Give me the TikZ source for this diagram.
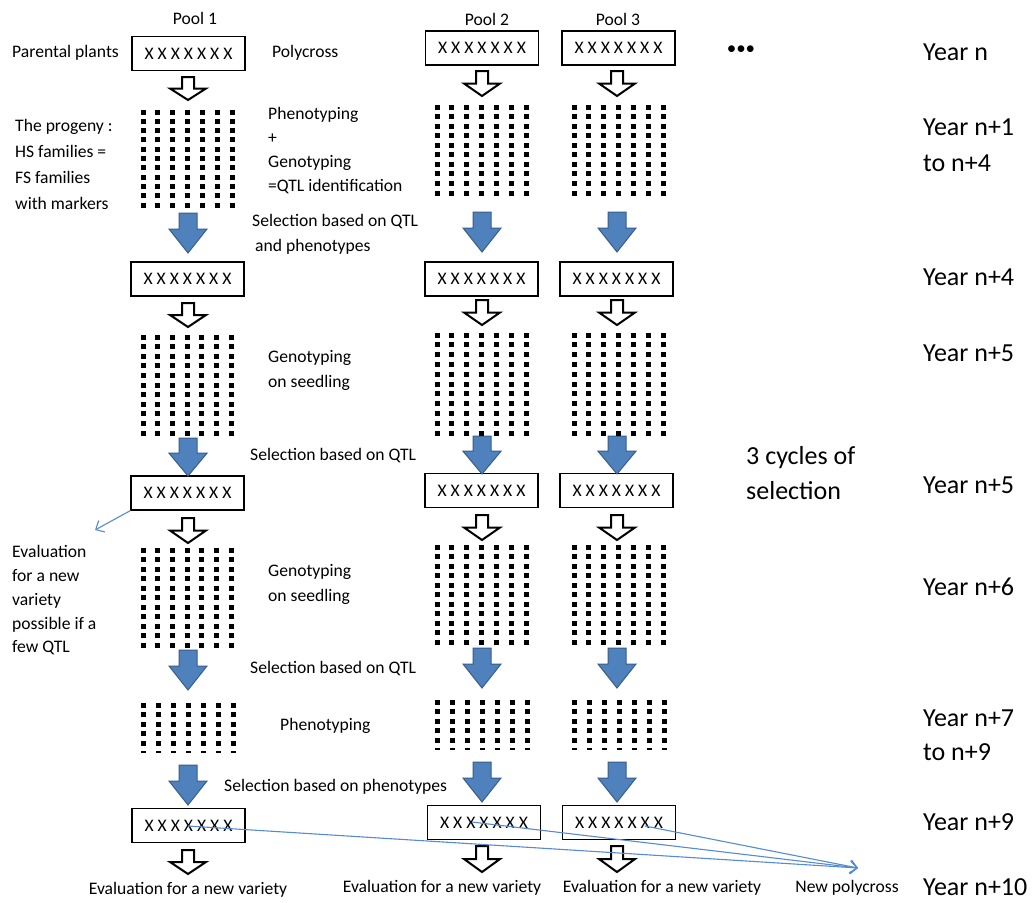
\documentclass[tikz,border=0pt]{standalone}
\usepackage{fontspec}
\setmainfont{Carlito}
\usetikzlibrary{arrows.meta}
\definecolor{bluefill}{RGB}{79,129,189}
\definecolor{blueedge}{RGB}{56,93,138}
\definecolor{linkblue}{RGB}{86,140,205}
\tikzset{
  t1/.style={inner sep=0, font=\fontsize{17.6}{24}\selectfont, text height=12.5pt, text depth=3.5pt},
  tm/.style={inner sep=0, align=left, anchor=west},
  yr/.style={inner sep=0, anchor=west, align=left},
  xbox/.style={draw, line width=1.1pt, minimum width=113pt, minimum height=34pt, inner sep=0, font=\fontsize{17.6}{20}\selectfont},
  blk/.style={fill=bluefill, draw=blueedge, line width=1pt, line join=miter},
  opn/.style={fill=white, draw=black, line width=2pt, line join=miter},
  link/.style={draw=linkblue, line width=1.1pt, -{Straight Barb[length=7pt,width=13pt]}}
}
\newcommand\bluearr[3]{% x, ytop, ytip
  \draw[blk] (#1-9,#2) -- (#1+9,#2) -- (#1+9,{#2+0.4*(#3-#2)}) -- (#1+19,{#2+0.4*(#3-#2)}) -- (#1,#3)
    -- (#1-19,{#2+0.4*(#3-#2)}) -- (#1-9,{#2+0.4*(#3-#2)}) -- cycle;}
\newcommand\openarr[3]{% x, ytop, ytip
  \draw[opn] (#1-6,#2) -- (#1+6,#2) -- (#1+6,{#2+0.5*(#3-#2)}) -- (#1+18,{#2+0.5*(#3-#2)}) -- (#1,#3)
    -- (#1-18,{#2+0.5*(#3-#2)}) -- (#1-6,{#2+0.5*(#3-#2)}) -- cycle;}
\newcommand\dotgrid[5]{% x0 y0 x1 y1 intervals
  \foreach \c in {0,...,6}{\foreach \r in {0,...,#5}{%
    \fill ({#1+\c*(#3-#1)/6-2.5},{#2+\r*(#4-#2)/#5-2.5}) rectangle ++(5,5);}}}
\newcommand\dashrow[3]{% x0 x1 y
  \foreach \c in {0,...,6}{\fill ({#1+\c*(#2-#1)/6-2.5},{#3-0.8}) rectangle ++(5,1.6);}}
\begin{document}
\begin{tikzpicture}[x=1pt,y=-1pt]
\useasboundingbox[fill=white] (0,0) rectangle (1033,902);

% pool labels
\node[t1] (p1) at (195,20) {Pool 1};
\node[t1] (p2) at (487,21) {Pool 2};
\node[t1] (p3) at (618,21) {Pool 3};

% boxes
\node[xbox] (b11) at (188.5,53.5) {X X X X X X X};
\node[xbox] (b12) at (482,48) {X X X X X X X};
\node[xbox] (b13) at (618.5,48) {X X X X X X X};
\node[xbox] (b21) at (187.5,279) {X X X X X X X};
\node[xbox] (b22) at (481.5,279) {X X X X X X X};
\node[xbox] (b23) at (616.5,279) {X X X X X X X};
\node[xbox] (b31) at (187.5,493) {X X X X X X X};
\node[xbox] (b32) at (481.5,490.5) {X X X X X X X};
\node[xbox] (b33) at (616.5,490.5) {X X X X X X X};
\node[xbox] (b41) at (188.5,825.5) {X X X X X X X};
\node[xbox] (b42) at (484,822.5) {X X X X X X X};
\node[xbox] (b43) at (619,822.5) {X X X X X X X};

% open arrows
\openarr{188}{77}{100}
\openarr{482}{71}{96}
\openarr{617}{71}{96}
\openarr{188}{303}{327}
\openarr{482}{300}{325}
\openarr{617}{300}{325}
\openarr{188}{518}{543}
\openarr{482}{515}{540}
\openarr{617}{515}{540}
\openarr{188}{850}{874}
\openarr{482}{846}{872}
\openarr{617}{846}{872}

% blue arrows
\bluearr{188}{213}{253}
\bluearr{482}{212}{252}
\bluearr{617}{212}{252}
\bluearr{188}{438}{476}
\bluearr{482}{436}{474}
\bluearr{617}{436}{474}
\bluearr{188}{650}{690}
\bluearr{482}{648}{688}
\bluearr{617}{648}{688}
\bluearr{188}{765}{805}
\bluearr{482}{762}{802}
\bluearr{617}{762}{802}

% dot grids
\dotgrid{143}{112}{232}{205}{10}
\dotgrid{437}{107}{526}{193}{9}
\dotgrid{574}{107}{663}{193}{9}
\dotgrid{143}{337}{231}{433}{10}
\dotgrid{437}{335}{526}{433}{10}
\dotgrid{574}{335}{663}{433}{10}
\dotgrid{143}{550}{231}{645}{10}
\dotgrid{437}{547}{526}{642}{10}
\dotgrid{574}{547}{663}{642}{10}
\dotgrid{143}{705}{233}{743}{4}
\dashrow{143}{233}{752}
\dotgrid{437}{702}{527}{740}{4}
\dashrow{437}{527}{749}
\dotgrid{574}{702}{664}{740}{4}
\dashrow{574}{664}{749}

% texts
\node[t1, anchor=west] (parental) at (12,53) {Parental plants};
\node[t1, anchor=west] (polycross) at (272,53) {Polycross};
\node[tm, font=\fontsize{17.6}{26}\selectfont] (progeny) at (15,164) {The progeny :\\HS families =\\FS families\\with markers};
\node[tm, font=\fontsize{17.6}{24}\selectfont] (phgeno) at (268,151) {Phenotyping\\+\\Genotyping\\=QTL identification};
\node[tm, font=\fontsize{17.6}{25}\selectfont] (sel1) at (252,234.5) {Selection based on QTL\\\hspace*{3pt}and phenotypes};
\node[tm, font=\fontsize{17.6}{25}\selectfont] (geno1) at (268,370.5) {Genotyping\\on seedling};
\node[t1, anchor=west] (sel2) at (250,456) {Selection based on QTL};
\node[tm, font=\fontsize{17.6}{25}\selectfont] (geno2) at (268,584.5) {Genotyping\\on seedling};
\node[t1, anchor=west] (sel3) at (250,669) {Selection based on QTL};
\node[t1, anchor=west] (pheno2) at (280,726) {Phenotyping};
\node[t1, anchor=west] (sel4) at (224,787) {Selection based on phenotypes};
\node[tm, font=\fontsize{17.6}{23.75}\selectfont] (evalleft) at (12,600.5) {Evaluation\\for a new\\variety\\possible if a\\few QTL};
\node[t1] (ev1) at (188,890) {Evaluation for a new variety};
\node[t1] (ev2) at (442,888) {Evaluation for a new variety};
\node[t1] (ev3) at (662,888) {Evaluation for a new variety};
\node[t1] (newpoly) at (847,888) {New polycross};
\node[inner sep=0, font=\fontsize{19}{20}\selectfont] (dots) at (741,50) {•••};

% year labels
\node[yr, font=\fontsize{26}{36}\selectfont] (y0) at (923,52) {Year n};
\node[yr, font=\fontsize{26}{36}\selectfont] (y1) at (923,145) {Year n+1\\to n+4};
\node[yr, font=\fontsize{26}{36}\selectfont] (y4) at (923,277) {Year n+4};
\node[yr, font=\fontsize{26}{36}\selectfont] (y5a) at (923,353) {Year n+5};
\node[yr, font=\fontsize{26}{35}\selectfont] (cyc) at (746,473.5) {3 cycles of\\selection};
\node[yr, font=\fontsize{26}{36}\selectfont] (y5b) at (923,485) {Year n+5};
\node[yr, font=\fontsize{26}{36}\selectfont] (y6) at (923,587) {Year n+6};
\node[yr, font=\fontsize{26}{34}\selectfont] (y7) at (923,735) {Year n+7\\to n+9};
\node[yr, font=\fontsize{26}{36}\selectfont] (y9) at (923,822) {Year n+9};
\node[yr, font=\fontsize{26}{36}\selectfont] (y10) at (923,887) {Year n+10};

% blue links
\coordinate (evtip) at (95,530);
\draw[link] (b31.south west) -- (evtip);
\coordinate (nptip) at (858,868);
\coordinate (s1) at (188,826);
\coordinate (s2) at (472,822);
\coordinate (s3) at (645,826);
\draw[link] (s1) -- (nptip);
\draw[link] (s2) -- (nptip);
\draw[link] (s3) -- (nptip);
\end{tikzpicture}
\end{document}
